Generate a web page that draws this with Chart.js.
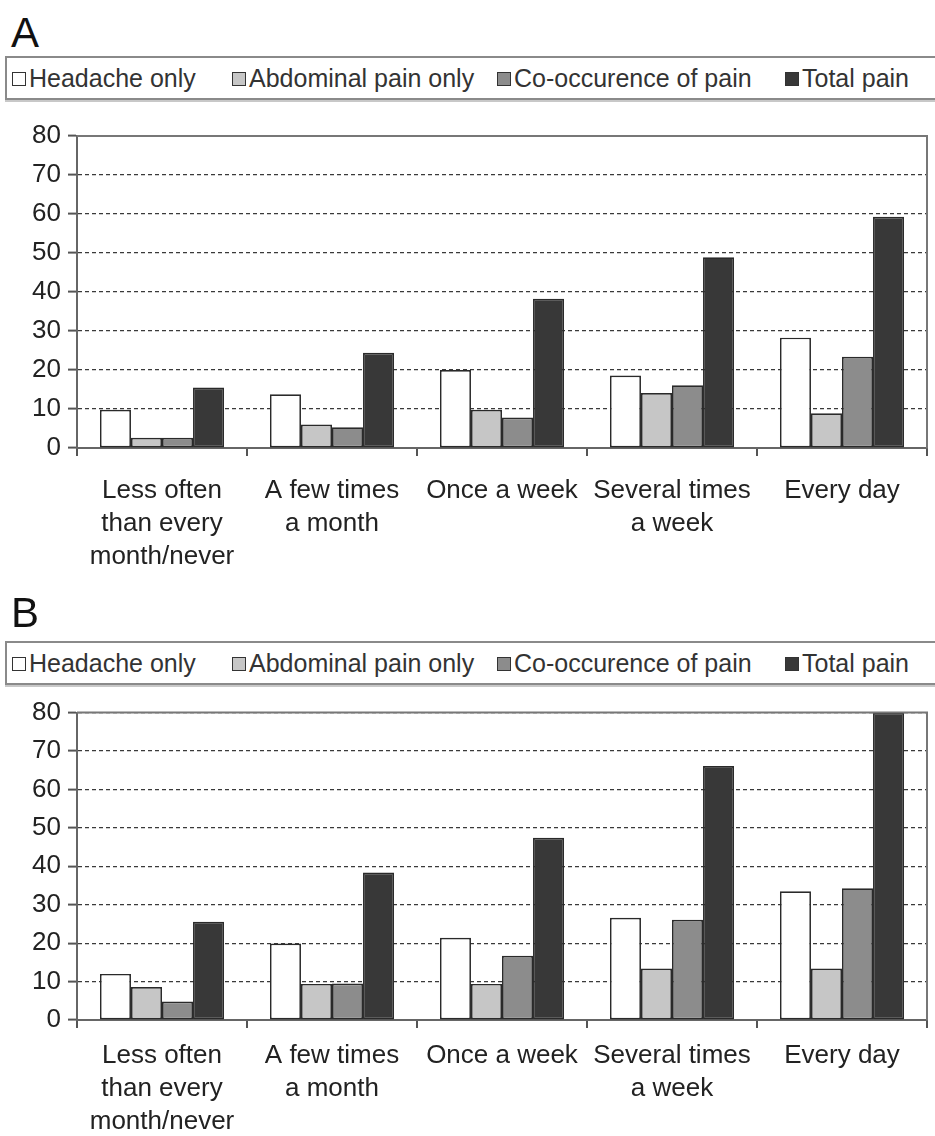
<!DOCTYPE html>
<html>
<head>
<meta charset="utf-8">
<script src="https://cdn.jsdelivr.net/npm/chart.js@4.4.0/dist/chart.umd.min.js"></script>
<style>
    body { margin: 0; background: #fff; font-family: "Liberation Sans", Arial, sans-serif; }
    #page { position: relative; width: 935px; height: 1136px; overflow: hidden; }
    .letter { position: absolute; left: 11px; font-size: 42px; line-height: 1; color: #111; }
    .legend { position: absolute; left: 5px; width: 945px; height: 40px; border: 2px solid #8a8a8a;
              box-shadow: 0 2px 0 #c8c8c8; background: #fff; }
    .legend .item { position: absolute; top: 7px; font-size: 25px; line-height: 26px; color: #333; white-space: nowrap; }
    .legend .swatch { display: inline-block; width: 12px; height: 12px; border: 1.5px solid #333;
                      margin-right: 3px; vertical-align: 1px; }
    canvas { position: absolute; left: 0; }
</style>
</head>
<body>
<div id="page">
    <div class="letter" style="top:12px">A</div>
    <div class="legend" id="legendA" style="top:56px"></div>
    <canvas id="chartA" width="935" height="495" style="top:105px"></canvas>

    <div class="letter" style="top:592px">B</div>
    <div class="legend" id="legendB" style="top:641px"></div>
    <canvas id="chartB" width="935" height="446" style="top:690px"></canvas>
</div>

<script>
// categories (x axis) and series names
const categories = [
    ['Less often', 'than every', 'month/never'],
    ['A few times', 'a month'],
    'Once a week',
    ['Several times', 'a week'],
    'Every day'
];
const seriesNames = ['Headache only', 'Abdominal pain only', 'Co-occurence of pain', 'Total pain'];
const yTicks = [0, 10, 20, 30, 40, 50, 60, 70, 80];

// panel A values (%)
const headacheA = [9.8, 13.8, 20.0, 18.6, 28.3];
const abdominalA = [2.6, 6.0, 9.8, 14.1, 8.9];
const cooccurA = [2.6, 5.3, 7.8, 16.1, 23.4];
const totalA = [15.5, 24.4, 38.3, 48.9, 59.3];

// panel B values (%)
const headacheB = [12.0, 19.9, 21.4, 26.6, 33.5];
const abdominalB = [8.6, 9.4, 9.4, 13.4, 13.4];
const cooccurB = [4.8, 9.5, 16.7, 26.1, 34.3];
const totalB = [25.6, 38.4, 47.4, 66.1, 80.0];

// styling
const fills = ['#ffffff', '#c6c6c6', '#8c8c8c', '#383838'];
const legendLeft = [5, 225, 490, 778];
const FONT = '"Liberation Sans", Arial, sans-serif';

function buildLegend(id) {
    const box = document.getElementById(id);
    seriesNames.forEach(function(name, i) {
        const item = document.createElement('span');
        item.className = 'item';
        item.style.left = legendLeft[i] + 'px';
        const sw = document.createElement('span');
        sw.className = 'swatch';
        sw.style.background = fills[i];
        item.appendChild(sw);
        item.appendChild(document.createTextNode(name));
        box.appendChild(item);
    });
}

// frame on top and right of the plot area
const framePlugin = {
    id: 'frame',
    afterDraw: function(chart) {
        const a = chart.chartArea;
        const ctx = chart.ctx;
        ctx.save();
        ctx.strokeStyle = '#777';
        ctx.lineWidth = 2;
        ctx.beginPath();
        ctx.moveTo(a.left, a.top);
        ctx.lineTo(a.right, a.top);
        ctx.lineTo(a.right, a.bottom);
        ctx.stroke();
        ctx.restore();
    }
};

function makeChart(id, series, padTop, xHeight, labelPad) {
    new Chart(document.getElementById(id), {
        type: 'bar',
        data: {
            labels: categories,
            datasets: series.map(function(values, i) {
                return {
                    label: seriesNames[i],
                    data: values,
                    backgroundColor: fills[i],
                    borderColor: '#2a2a2a',
                    borderWidth: 1.7,
                    borderSkipped: false,
                    barPercentage: 1.0,
                    categoryPercentage: 0.73
                };
            })
        },
        options: {
            responsive: false,
            animation: false,
            layout: { padding: { top: padTop, right: 8, left: 0, bottom: 0 } },
            plugins: { legend: { display: false }, tooltip: { enabled: false } },
            scales: {
                x: {
                    grid: { display: true, drawOnChartArea: false, offset: true, tickLength: 8, color: '#555', lineWidth: 2 },
                    border: { display: true, color: '#666', width: 2 },
                    ticks: {
                        autoSkip: false, maxRotation: 0, padding: labelPad,
                        color: '#222', font: { family: FONT, size: 26, lineHeight: 1.28 }
                    },
                    afterFit: function(scale) { scale.height = xHeight; }
                },
                y: {
                    min: 0, max: 80,
                    afterBuildTicks: function(scale) {
                        scale.ticks = yTicks.map(function(v) { return { value: v }; });
                    },
                    grid: { color: '#3a3a3a', lineWidth: 1.2, tickLength: 9, tickColor: '#555', tickWidth: 2, tickBorderDash: [] },
                    border: { display: true, color: '#666', width: 2, dash: [4, 3] },
                    ticks: { padding: 7, color: '#222', font: { family: FONT, size: 26 } },
                    afterFit: function(scale) { scale.width = 77; }
                }
            }
        },
        plugins: [framePlugin]
    });
}

buildLegend('legendA');
buildLegend('legendB');
makeChart('chartA', [headacheA, abdominalA, cooccurA, totalA], 31, 152, 18);
makeChart('chartB', [headacheB, abdominalB, cooccurB, totalB], 18, 116, 11);
</script>
</body>
</html>
